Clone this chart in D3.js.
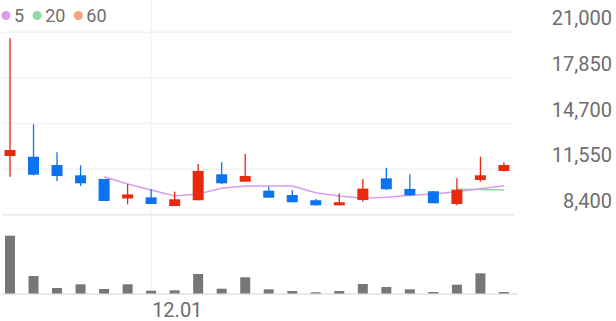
<!DOCTYPE html>
<html>
<head>
<meta charset="utf-8">
<script src="https://cdn.jsdelivr.net/npm/d3@7"></script>
<style>
  body { margin: 0; background: #fff; }
  svg { display: block; font-family: Roboto, sans-serif; }
</style>
</head>
<body>
<div id="chart-area"></div>
<script>
// daily candles, red = up, blue = down
const dates = ["11.23","11.24","11.27","11.28","11.29","11.30","12.01","12.04","12.05","12.06","12.07",
  "12.08","12.11","12.12","12.13","12.14","12.15","12.18","12.19","12.20","12.21","12.22"]
const opens  = [12420,12370,11800,11090,10840, 9490, 9570, 8970, 9370,11160,10650,10030, 9730, 9370, 9020, 9390,10880,10150, 9990, 9110,10770,11390]
const highs  = [20540,14610,12680,11780,10840,10470,10150, 9960,11870,11990,12560,10300,10080, 9460, 9850,10840,11620,11160, 9990,10880,12370,11990]
const lows   = [10990,11090,10700,10350, 9320, 9090, 9110, 8970, 9370,10470,10650, 9545, 9230, 9020, 9020, 9270,10080, 9660, 9160, 9020,10650,11350]
const closes = [12840,11130,11040,10540, 9320, 9770, 9110, 9435,11390,10540,11040, 9545, 9230, 9020, 9230,10170,10130, 9710, 9160,10100,11090,11800]
const volumes = [2890000, 875000, 275000, 460000, 225000, 460000, 140000, 160000, 975000, 240000, 810000,
  210000, 125000, 60000, 125000, 475000, 325000, 210000, 75000, 440000, 1010000, 75000]
// moving averages as drawn (null = not yet available)
const ma5 = [null,null,null,null,10990,10490,10080, 9660, 9800,10190,10350,10350,10350, 9890, 9660, 9500, 9570, 9710, 9800, 9960,10170,10370]
const ma20 = [null,null,null,null,null,null,null,null,null,null,null,null,null,null,null,null,null,null,null,10125,10110,10080]
const yTicks = [8400, 11550, 14700, 17850, 21000]
const xTicks = ["12.01"]
const legend = [{ label: "5", color: "#d99cf0" }, { label: "20", color: "#8fd9a0" }, { label: "60", color: "#f6a47c" }]

const WIDTH = 616
const HEIGHT = 321
const PLOT_RIGHT = 514
const VOL_BASE = 293.5

const svg = d3.select("#chart-area").append("svg")
  .attr("width", WIDTH)
  .attr("height", HEIGHT)

const x = d3.scaleBand()
  .domain(dates)
  .range([-1.76, 515.7])
  .paddingInner(0.53)
  .paddingOuter(0.265)
const cx = d => x(d) + x.bandwidth() / 2

const y = d3.scaleLinear()
  .domain([8400, 21000])
  .range([214.3, 31.7])

const yVol = d3.scaleLinear()
  .domain([0, 3300000])
  .range([VOL_BASE, 227.5])

// vertical date grid line
svg.selectAll(".x-grid").data(xTicks).enter().append("line")
  .attr("x1", d => cx(d)).attr("x2", d => cx(d))
  .attr("y1", 0).attr("y2", VOL_BASE)
  .attr("stroke", "#f0f0f0").attr("stroke-width", 1.2)

// y axis: grid lines + labels on the right
const yAxisGroup = svg.append("g")
  .attr("transform", "translate(2,0)")
  .call(d3.axisRight(y).tickValues(yTicks).tickSize(PLOT_RIGHT - 2).tickFormat(d3.format(",")))
yAxisGroup.select(".domain").remove()
yAxisGroup.selectAll(".tick line")
  .attr("stroke", d => d === 8400 ? "#e8e8e8" : "#f2f2f2")
  .attr("stroke-width", 1.5)
yAxisGroup.selectAll(".tick text")
  .attr("x", 610)
  .attr("dy", -7)
  .attr("text-anchor", "end")
  .attr("font-size", "20px")
  .attr("font-family", "Roboto, sans-serif")
  .attr("fill", "#6e6e6e")

// volume baseline
svg.append("line")
  .attr("x1", 2).attr("x2", 518)
  .attr("y1", VOL_BASE + 0.5).attr("y2", VOL_BASE + 0.5)
  .attr("stroke", "#e2e2e2").attr("stroke-width", 1.5)

// x label
svg.selectAll(".x-label").data(xTicks).enter().append("text")
  .attr("x", d => cx(d) + 1)
  .attr("y", 317)
  .attr("font-size", "20px")
  .attr("fill", "#6e6e6e")
  .text(d => d)

// volume bars
svg.selectAll(".vol").data(dates).enter().append("rect")
  .attr("x", d => cx(d) - 5)
  .attr("width", 10)
  .attr("y", (d, i) => yVol(volumes[i]))
  .attr("height", (d, i) => VOL_BASE - yVol(volumes[i]))
  .attr("fill", "#777777")

// moving average lines
const line = d3.line()
  .defined(d => d.v != null)
  .x(d => cx(d.date))
  .y(d => y(d.v))
svg.append("path")
  .attr("d", line(dates.map((d, i) => ({ date: d, v: ma20[i] }))))
  .attr("fill", "none").attr("stroke", legend[1].color).attr("stroke-width", 1.5)
svg.append("path")
  .attr("d", line(dates.map((d, i) => ({ date: d, v: ma5[i] }))))
  .attr("fill", "none").attr("stroke", legend[0].color).attr("stroke-width", 1.5)

// candles
const RED = "#e8290b"
const BLUE = "#0b73f0"
const candles = svg.selectAll(".candle").data(dates).enter().append("g")
const colorOf = i => closes[i] >= opens[i] ? RED : BLUE
candles.append("line")
  .attr("x1", d => cx(d)).attr("x2", d => cx(d))
  .attr("y1", (d, i) => y(highs[i]))
  .attr("y2", (d, i) => y(lows[i]))
  .attr("stroke", (d, i) => colorOf(i))
  .attr("stroke-width", 1.3)
candles.append("rect")
  .attr("x", d => cx(d) - 5.5)
  .attr("width", 11)
  .attr("y", (d, i) => y(Math.max(opens[i], closes[i])))
  .attr("height", (d, i) => Math.max(1.5, Math.abs(y(opens[i]) - y(closes[i]))))
  .attr("fill", (d, i) => colorOf(i))

// legend
let lx = 6
legend.forEach(l => {
  svg.append("circle").attr("cx", lx).attr("cy", 15.5).attr("r", 4.5).attr("fill", l.color)
  const t = svg.append("text")
    .attr("x", lx + 8).attr("y", 22)
    .attr("font-size", "18px").attr("fill", "#6e6e6e")
    .text(l.label)
  lx += 8 + t.node().getComputedTextLength() + 13
})
</script>
</body>
</html>
